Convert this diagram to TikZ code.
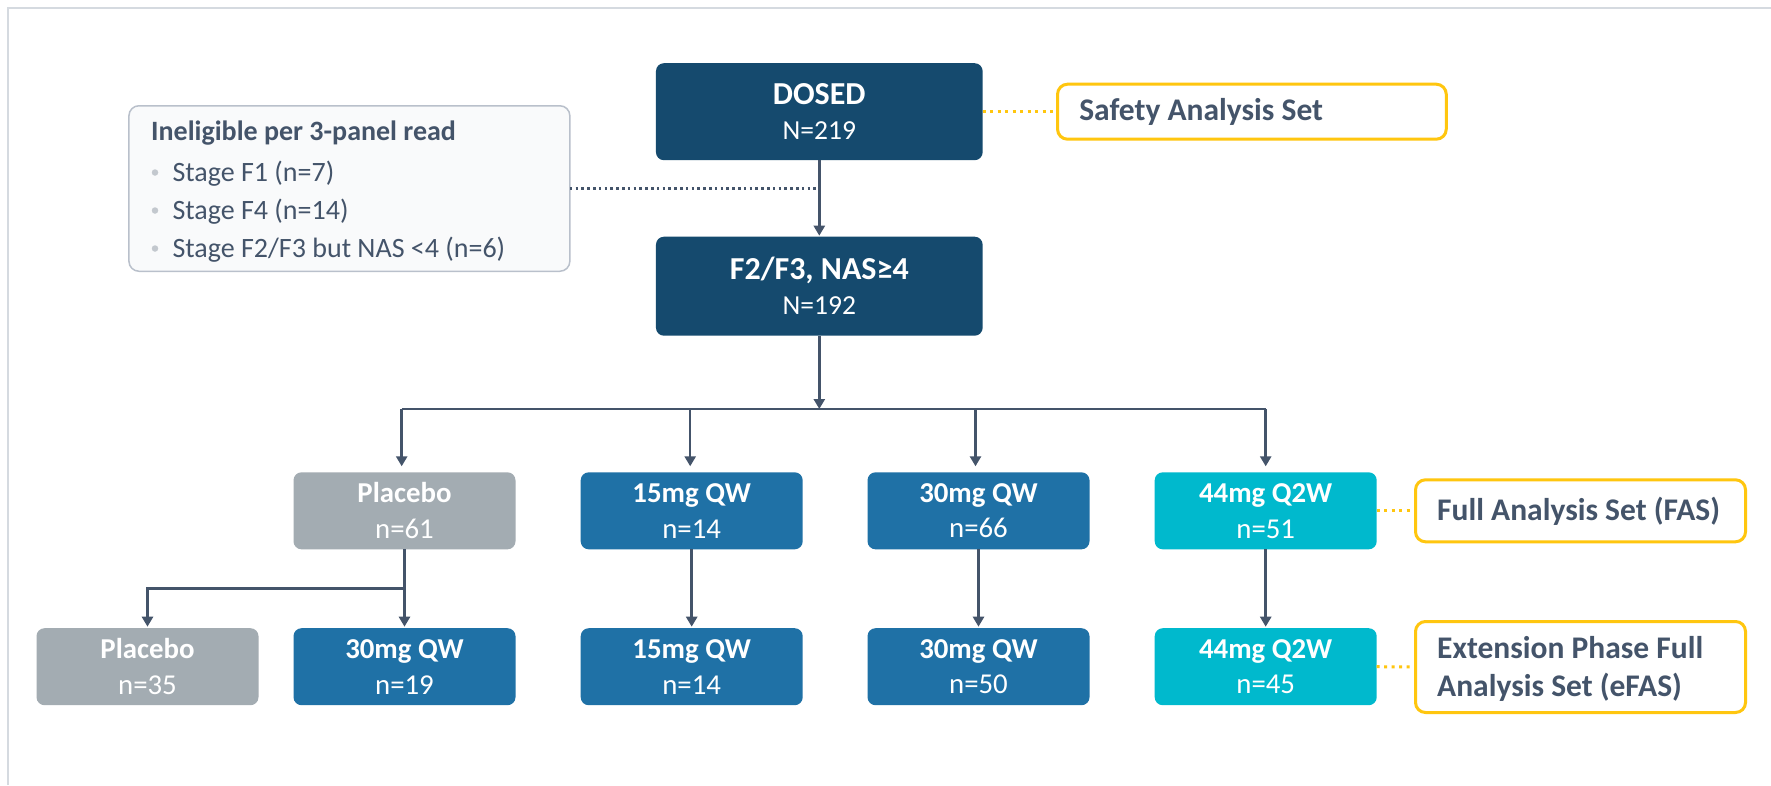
\documentclass[tikz,border=0pt]{standalone}
\usepackage{fontspec}
\setmainfont{Carlito}
\usetikzlibrary{arrows.meta}
\definecolor{navy}{HTML}{154A6E}
\definecolor{mblue}{HTML}{1F71A6}
\definecolor{cyanbox}{HTML}{00B9CD}
\definecolor{graybox}{HTML}{A3ACB2}
\definecolor{goldline}{HTML}{FFC60F}
\definecolor{slate}{HTML}{44546A}
\definecolor{framegray}{HTML}{D5DAE0}
\definecolor{panelfill}{HTML}{F9FAFB}
\definecolor{panelline}{HTML}{B9C0CB}
\definecolor{bulletgray}{HTML}{C3C8CE}
\begin{document}
\begin{tikzpicture}[x=1pt,y=-1pt,
  box/.style={rectangle, rounded corners=8pt, text=white, align=center, inner sep=0pt, outer sep=0pt},
  topbox/.style={box, fill=navy, minimum width=326.7pt, font=\fontsize{27.5}{35}\selectfont},
  armbox/.style={box, minimum width=222pt, minimum height=77pt, font=\fontsize{28.8}{35.7}\selectfont},
  plbox/.style={armbox, fill=graybox},
  bluebox/.style={armbox, fill=mblue},
  cybox/.style={armbox, fill=cyanbox},
  setbox/.style={rectangle, draw=goldline, line width=3pt, rounded corners=10pt, fill=white, inner sep=0pt, outer sep=0pt},
  settext/.style={anchor=west, text=slate, align=left, inner sep=0pt, font=\bfseries\fontsize{31.5}{38}\selectfont},
  paneltext/.style={anchor=base west, text=slate, inner sep=0pt, font=\fontsize{28}{34}\selectfont},
  bulletdot/.style={circle, fill=bulletgray, inner sep=0pt, minimum size=6.5pt},
  plain/.style={draw=slate, line width=2.5pt},
  flow/.style={plain, -{Triangle[width=11pt,length=10pt]}},
  goldlink/.style={draw=goldline, line width=3pt, dash pattern=on 3pt off 4.5pt},
  graylink/.style={draw=slate, line width=2.5pt, dash pattern=on 2.5pt off 3.3pt},
]
\useasboundingbox (0,0) rectangle (1771,785);
\fill[white] (0,0) rectangle (1771,785);
% frame
\draw[framegray, line width=2pt] (8,785) -- (8,8) -- (1771,8);

% top boxes
\node[topbox, minimum height=97pt] (dosed) at (819.3,111.7)
  {{\bfseries\fontsize{32}{35}\selectfont DOSED}\\N=219};
\node[topbox, minimum height=99pt] (f2) at (819.3,286.2)
  {{\bfseries\fontsize{32}{35}\selectfont F2/F3, NAS≥4}\\N=192};

% ineligible panel
\node[rectangle, draw=panelline, fill=panelfill, line width=1.5pt, rounded corners=10pt,
      minimum width=440.9pt, minimum height=165.5pt, inner sep=0pt, outer sep=0pt] (inel) at (349.4,188.5) {};
\node[paneltext, font=\bfseries\fontsize{28}{34}\selectfont] (ineltitle) at (151,140.5) {Ineligible per 3-panel read};
\node[bulletdot] (bul1) at (155,172.5) {};
\node[bulletdot] (bul2) at (155,210.5) {};
\node[bulletdot] (bul3) at (155,248.5) {};
\node[paneltext] (inel1) at (172.4,181.5) {Stage F1 (n=7)};
\node[paneltext] (inel2) at (172.4,219.5) {Stage F4 (n=14)};
\node[paneltext] (inel3) at (172.4,257.5) {Stage F2/F3 but NAS <4 (n=6)};

% analysis set boxes
\node[setbox, minimum width=388.7pt, minimum height=55pt] (safety) at (1251.9,111.7) {};
\node[settext] (safetytxt) at ([xshift=21.5pt]safety.west) {Safety Analysis Set};
\node[setbox, minimum width=330pt, minimum height=62pt] (fas) at (1580.5,510.8) {};
\node[settext] (fastxt) at ([xshift=21.5pt]fas.west) {Full Analysis Set (FAS)};
\node[setbox, minimum width=330pt, minimum height=91pt] (efas) at (1580.5,667) {};
\node[settext] (efastxt) at ([xshift=21.5pt,yshift=-1.5pt]efas.west) {Extension Phase Full\\Analysis Set (eFAS)};

% arm boxes row 1
\node[plbox] (p61) at (404.5,510.8) {{\bfseries Placebo}\\n=61};
\node[bluebox] (b15) at (691.7,510.8) {{\bfseries 15mg QW}\\n=14};
\node[bluebox] (b30) at (978.5,510.8) {{\bfseries 30mg QW}\\n=66};
\node[cybox] (b44) at (1265.7,510.8) {{\bfseries 44mg Q2W}\\n=51};
% row 2
\node[plbox] (p35) at (147.5,666.7) {{\bfseries Placebo}\\n=35};
\node[bluebox] (b30b) at (404.5,666.7) {{\bfseries 30mg QW}\\n=19};
\node[bluebox] (b15b) at (691.7,666.7) {{\bfseries 15mg QW}\\n=14};
\node[bluebox] (b30c) at (978.5,666.7) {{\bfseries 30mg QW}\\n=50};
\node[cybox] (b44b) at (1265.7,666.7) {{\bfseries 44mg Q2W}\\n=45};

% connectors
\draw[flow, shorten >=1pt] (dosed.south) -- (f2.north);
\coordinate (j1) at (inel.east -| dosed.south);
\draw[graylink] (inel.east) -- (j1);
\draw[goldlink] (dosed.east) -- (safety.west);
\draw[goldlink] (b44.east) -- (fas.west);
\draw[goldlink] (b44b.east) -- (efas.west);

\coordinate (hub) at (819.3,409);
\coordinate (hl) at (401.7,409);
\coordinate (hr) at (1265.7,409);
\draw[flow] (f2.south) -- (hub);
\draw[draw=slate, line width=2.2pt] (hl) -- (hr);
\draw[flow, shorten >=6pt] (hl) -- (hl |- p61.north);
\draw[flow, shorten >=6pt] ([xshift=-1.5pt]b15.north |- hub) -- ([xshift=-1.5pt]b15.north);
\draw[flow, shorten >=6pt] ([xshift=-3pt]b30.north |- hub) -- ([xshift=-3pt]b30.north);
\draw[flow, shorten >=6pt] (hr) -- (b44.north);

\coordinate (pj) at (404.5,588.3);
\draw[plain] (p61.south) -- (pj);
\draw[flow, shorten >=1.5pt] (pj) -| (p35.north);
\draw[flow, shorten >=1.5pt] (pj) -- (b30b.north);
\draw[flow, shorten >=1.5pt] (b15.south) -- (b15b.north);
\draw[flow, shorten >=1.5pt] (b30.south) -- (b30c.north);
\draw[flow, shorten >=1.5pt] (b44.south) -- (b44b.north);
\end{tikzpicture}
\end{document}
